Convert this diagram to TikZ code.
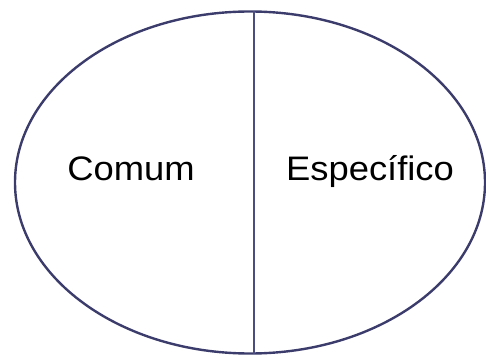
\documentclass[tikz,border=0pt]{standalone}
\usepackage{fontspec}
\setmainfont{Liberation Sans}
\usetikzlibrary{shapes.geometric}
\definecolor{cRim}{HTML}{3C3C6C}
\definecolor{cDiv}{HTML}{4A4C82}
\tikzset{
  rim/.style={ellipse,draw=cRim,line width=2.4pt,inner sep=0pt,
              minimum width=470pt,minimum height=342pt},
  divline/.style={draw=cDiv,line width=1.2pt},
  lbl/.style={anchor=base,inner sep=0pt,xscale=1.07,font=\fontsize{34}{40}\selectfont},
}
\begin{document}
\begin{tikzpicture}[x=1pt,y=-1pt]
  \useasboundingbox (0,0) rectangle (486,355);
  % --- outer ellipse ---
  \node[rim] (oval) at (250,182.5) {};
  % --- dividing line ---
  \coordinate (dtop) at (254,11.5);
  \coordinate (dbot) at (254,353.5);
  \draw[divline] (dtop) -- (dbot);
  % --- labels ---
  \node[lbl] (comum) at (131,181) {Comum};
  \node[lbl] (espec) at (370,181) {Específico};
\end{tikzpicture}
\end{document}
